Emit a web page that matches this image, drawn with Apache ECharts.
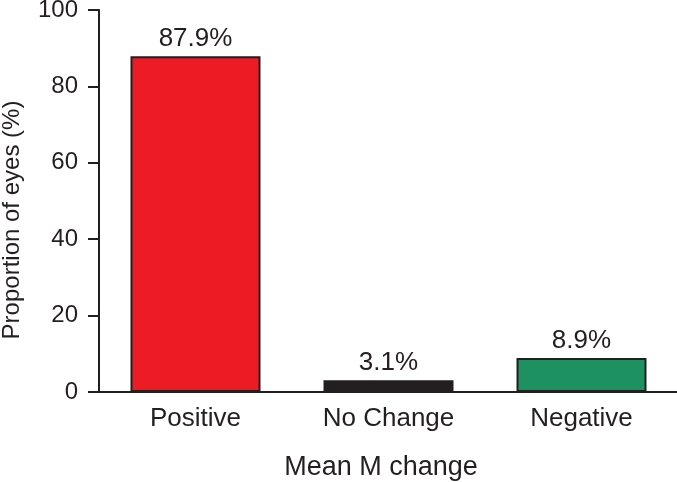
<!DOCTYPE html>
<html><head><meta charset="utf-8">
<script src="https://cdn.jsdelivr.net/npm/echarts@6/dist/echarts.min.js"></script>
<style>html,body{margin:0;padding:0;background:#fff}#c{width:677px;height:482px}</style>
</head><body><div id="c"></div>
<script>
var categories = ['Positive', 'No Change', 'Negative'];
var values = [87.9, 3.1, 8.9];
var labels = ['87.9%', '3.1%', '8.9%'];
var colors = ['#ED1C24', '#231F20', '#1E9160'];
var yTicks = [0, 20, 40, 60, 80, 100];
var yTitle = 'Proportion of eyes (%)';

var chart = echarts.init(document.getElementById('c'));
var font = 'Liberation Sans, Arial, Helvetica, sans-serif';
chart.setOption({
  animation: false,
  grid: {left: 99, right: -1, top: 10, bottom: 90, outerBoundsMode: 'none', containLabel: false},
  graphic: [{
    type: 'text', x: 12, y: 220, rotation: Math.PI / 2,
    style: {text: yTitle, fontFamily: font, fontSize: 24, fill: '#231F20', align: 'center', verticalAlign: 'middle'}
  }],
  xAxis: {
    type: 'category', data: categories,
    name: 'Mean M change', nameLocation: 'middle', nameGap: 62,
    nameTextStyle: {fontFamily: font, fontSize: 27, color: '#231F20', padding: [0, 15, 0, 0]},
    axisLine: {lineStyle: {color: '#231F20', width: 2}},
    axisTick: {alignWithLabel: true, length: 10, lineStyle: {color: '#231F20', width: 2}},
    axisLabel: {fontFamily: font, fontSize: 26, color: '#231F20', margin: 14}
  },
  yAxis: {
    type: 'value', min: 0, max: 100, interval: 20,
    axisLine: {show: true, lineStyle: {color: '#231F20', width: 2}},
    axisTick: {show: true, length: 11, lineStyle: {color: '#231F20', width: 2}},
    axisLabel: {fontFamily: font, fontSize: 24, color: '#231F20', margin: 21,
      formatter: function(v){ return yTicks.indexOf(v) >= 0 ? String(v) : ''; }},
    splitLine: {show: false}
  },
  series: [{
    type: 'bar', barWidth: 130,
    data: values.map(function(v, i){
      return {value: v, itemStyle: {color: colors[i]}};
    }),
    itemStyle: {borderColor: '#231F20', borderWidth: 2},
    label: {show: true, position: 'top', distance: 4, fontFamily: font, fontSize: 26, color: '#231F20',
      formatter: function(p){ return labels[p.dataIndex]; }}
  }]
});
</script></body></html>
